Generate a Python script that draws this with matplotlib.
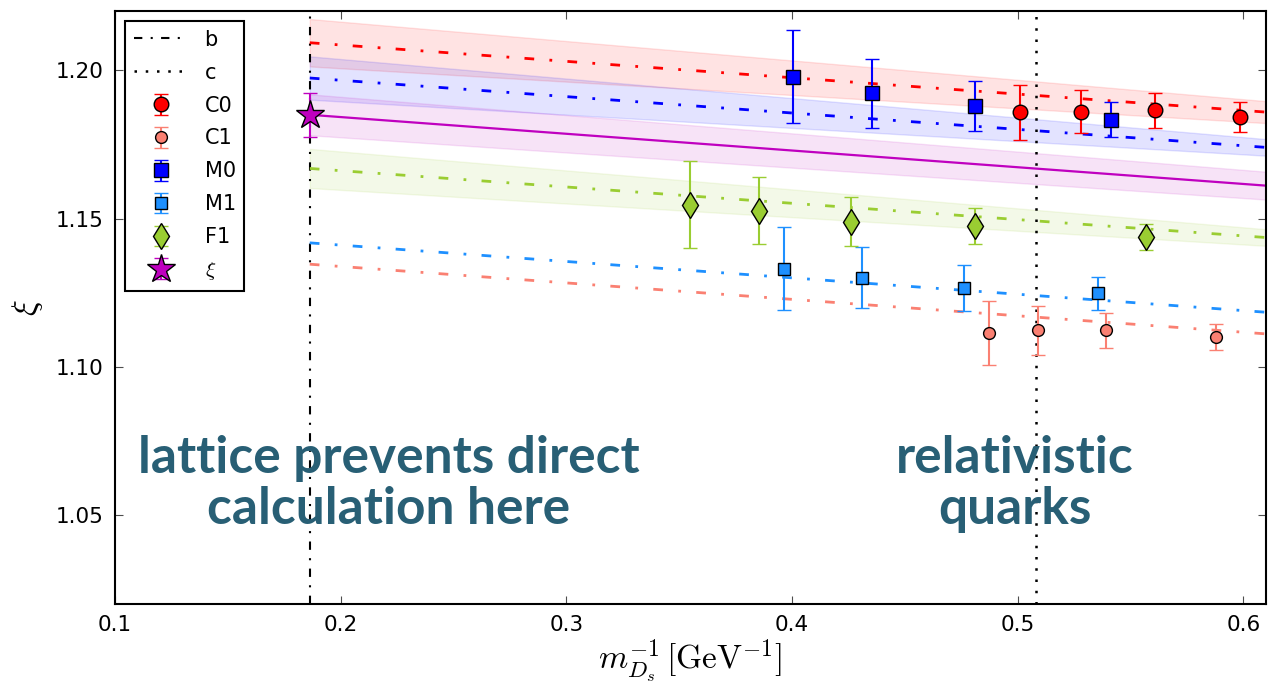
import numpy as np
import matplotlib
matplotlib.use("Agg")
from matplotlib import pyplot as plt

plt.rcParams['mathtext.fontset'] = 'cm'
plt.rcParams['font.family'] = 'DejaVu Sans'

# inverse meson masses where the vertical guides sit
x_b = 0.1863
x_c = 0.5081

# data points (x, xi, error)
c0_x = [0.5010, 0.5282, 0.5609, 0.5985]
c0_y = [1.1858, 1.1860, 1.1865, 1.1843]
c0_err = [0.0094, 0.0072, 0.0059, 0.0050]

c1_x = [0.4871, 0.5088, 0.5393, 0.5880]
c1_y = [1.1114, 1.1123, 1.1123, 1.1102]
c1_err = [0.0107, 0.0083, 0.0060, 0.0044]

m0_x = [0.4004, 0.4354, 0.4811, 0.5413]
m0_y = [1.1979, 1.1922, 1.1879, 1.1833]
m0_err = [0.0158, 0.0115, 0.0084, 0.0059]

m1_x = [0.3966, 0.4309, 0.4762, 0.5356]
m1_y = [1.1330, 1.1301, 1.1266, 1.1248]
m1_err = [0.0140, 0.0102, 0.0077, 0.0056]

f1_x = [0.3546, 0.3852, 0.4262, 0.4811, 0.5570]
f1_y = [1.1546, 1.1527, 1.1490, 1.1476, 1.1437]
f1_err = [0.0147, 0.0112, 0.0082, 0.0061, 0.0044]

xi_val = 1.1850
xi_err = 0.0074

# fit lines: value at x_b and at right edge, band half-widths at both ends
fit_x = [x_b, 0.61]
c0_fit = [1.2093, 1.1859]
c0_band = [0.0080, 0.0037]
m0_fit = [1.1974, 1.1740]
m0_band = [0.0073, 0.0028]
f1_fit = [1.1669, 1.1436]
f1_band = [0.0066, 0.0028]
xi_fit = [1.1850, 1.1611]
xi_band = [0.0069, 0.0047]
m1_fit = [1.1418, 1.1184]
c1_fit = [1.1346, 1.1111]

fig = plt.figure(figsize=(12.71, 6.97), dpi=100)
ax = fig.add_axes([115/1271, 93/697, 1151/1271, 593/697])

dashdot = (0, (3.5, 5.5, 1, 5.5))

ax.axvline(x_b, color='k', ls=(0, (4, 4, 1, 4)), lw=1.5, label='b')
ax.axvline(x_c, color='k', ls=(0, (1, 3.5)), lw=1.8, label='c')


def band(fit, hw, col, ls, lw=2):
    fit = np.array(fit)
    hw = np.array(hw)
    ax.fill_between(fit_x, fit - hw, fit + hw, color=col, alpha=0.11, lw=1)
    ax.plot(fit_x, fit, color=col, ls=ls, lw=lw)


band(c0_fit, c0_band, 'r', dashdot)
band(m0_fit, m0_band, 'b', dashdot)
band(f1_fit, f1_band, 'yellowgreen', dashdot)
band(xi_fit, xi_band, 'm', '-', lw=1.6)
ax.plot(fit_x, m1_fit, color='dodgerblue', ls=dashdot, lw=2)
ax.plot(fit_x, c1_fit, color='salmon', ls=dashdot, lw=2)

eb = dict(ls='none', capsize=5, elinewidth=1.5, capthick=1.5, mec='k', mew=1)
ax.errorbar(c0_x, c0_y, yerr=c0_err, fmt='o', color='r', ms=10.5, label='C0', **eb)
ax.errorbar(c1_x, c1_y, yerr=c1_err, fmt='o', color='salmon', ms=8.5, label='C1', **eb)
ax.errorbar(m0_x, m0_y, yerr=m0_err, fmt='s', color='b', ms=10.5, label='M0', **eb)
ax.errorbar(m1_x, m1_y, yerr=m1_err, fmt='s', color='dodgerblue', ms=9, label='M1', **eb)
ax.errorbar(f1_x, f1_y, yerr=f1_err, fmt='d', color='yellowgreen', ms=13, label='F1', **eb)
ax.errorbar([x_b], [xi_val], yerr=[xi_err], fmt='*', color='m', ms=21, label=r'$\xi$', **eb)

ax.set_xlim(0.1, 0.61)
ax.set_ylim(1.02, 1.22)
ax.set_xticks([0.1, 0.2, 0.3, 0.4, 0.5, 0.6])
ax.set_xticklabels(['0.1', '0.2', '0.3', '0.4', '0.5', '0.6'])
ax.set_yticks([1.05, 1.10, 1.15, 1.20])
ax.set_yticklabels(['1.05', '1.10', '1.15', '1.20'])
ax.tick_params(direction='in', top=True, right=True, labelsize=15.5, length=6, pad=8, color='0.3')
for s in ax.spines.values():
    s.set_linewidth(1.5)

ax.set_xlabel(r'$m_{D_s}^{-1}\,[\mathrm{GeV}^{-1}]$', fontsize=24, labelpad=2)
ax.set_ylabel(r'$\xi$', fontsize=24, labelpad=8)

leg = ax.legend(loc='upper left', numpoints=1, fontsize=15, fancybox=False,
                edgecolor='k', framealpha=1, labelspacing=0.62, handlelength=2.6,
                borderaxespad=0.5)
leg.get_frame().set_linewidth(1.5)

txt = dict(family='Lato', weight='bold', fontsize=37, color='#285f75',
           ha='center', va='center', linespacing=1.12, transform=ax.transAxes)
ax.text((389 - 115) / 1151, (604 - 484) / 593, 'lattice prevents direct\ncalculation here', **txt)
ax.text((1015 - 115) / 1151, (604 - 484) / 593, 'relativistic\nquarks', **txt)

fig.savefig('out.png', dpi=100)
